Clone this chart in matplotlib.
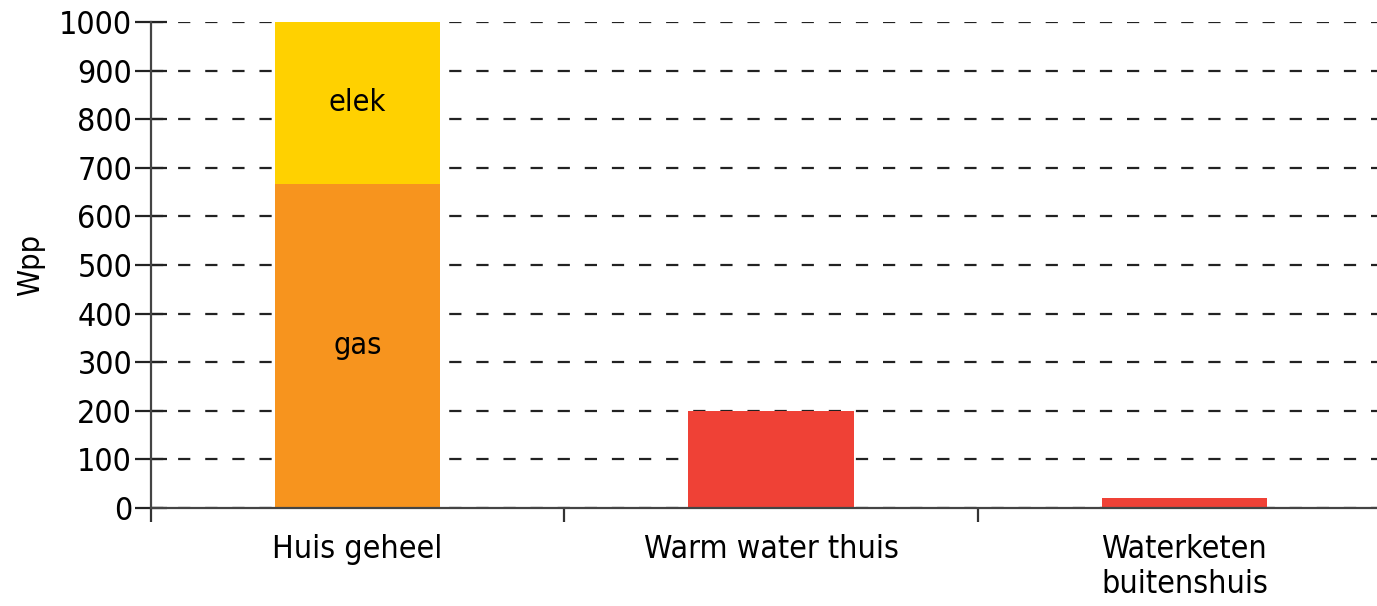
import matplotlib.pyplot as plt
import numpy as np

# data (Wpp)
categories = ["Huis geheel", "Warm water thuis", "Waterketen\nbuitenshuis"]
gas = [667, 0, 0]
elek = [333, 0, 0]
other = [0, 200, 20]

plt.rcParams['font.family'] = ['DejaVu Sans']
plt.rcParams['font.stretch'] = 'condensed'

fig = plt.figure(figsize=(13.77, 6.06), dpi=100)
# axis runs past the right edge of the figure, like the cropped original
ax = fig.add_axes([0.1096, 0.1617, 0.9006, 0.802])

x = np.arange(len(categories)) + 0.5
w = 0.4

ax.bar(x, gas, w, color="#F7941E", zorder=2)
ax.bar(x, elek, w, bottom=gas, color="#FFD100", zorder=2)
ax.bar(x, other, w, color="#EF4136", zorder=2)

# labels inside the stacked bar
ax.text(x[0], gas[0] + elek[0] / 2, "elek", ha="center", va="center", fontsize=22, zorder=3)
ax.text(x[0], gas[0] / 2, "gas", ha="center", va="center", fontsize=22, zorder=3)

ax.set_xlim(0, 3)
ax.set_ylim(0, 1000)
ax.set_yticks(np.arange(0, 1001, 100))
ax.set_xticks([0, 1, 2, 3])
ax.set_xticklabels([])
ax.set_xticks(x, minor=True)
ax.set_xticklabels(categories, minor=True, fontsize=23, linespacing=1.15)
ax.tick_params(axis="x", which="minor", length=0, pad=19)
ax.tick_params(axis="x", which="major", length=10, width=1.6, direction="out", color="#333333")
ax.tick_params(axis="y", length=23, width=1.6, direction="inout", labelsize=23, pad=2, color="#222222")

ax.yaxis.grid(True, linestyle=(0, (5.5, 6.7)), color="#222222", linewidth=1.6, zorder=0)
ax.set_axisbelow(True)

for s in ["top", "right"]:
    ax.spines[s].set_visible(False)
for s in ["left", "bottom"]:
    ax.spines[s].set_color("#444444")
    ax.spines[s].set_linewidth(1.6)

ax.set_ylabel("Wpp", fontsize=22, labelpad=10)

fig.savefig("out.png", dpi=100)
